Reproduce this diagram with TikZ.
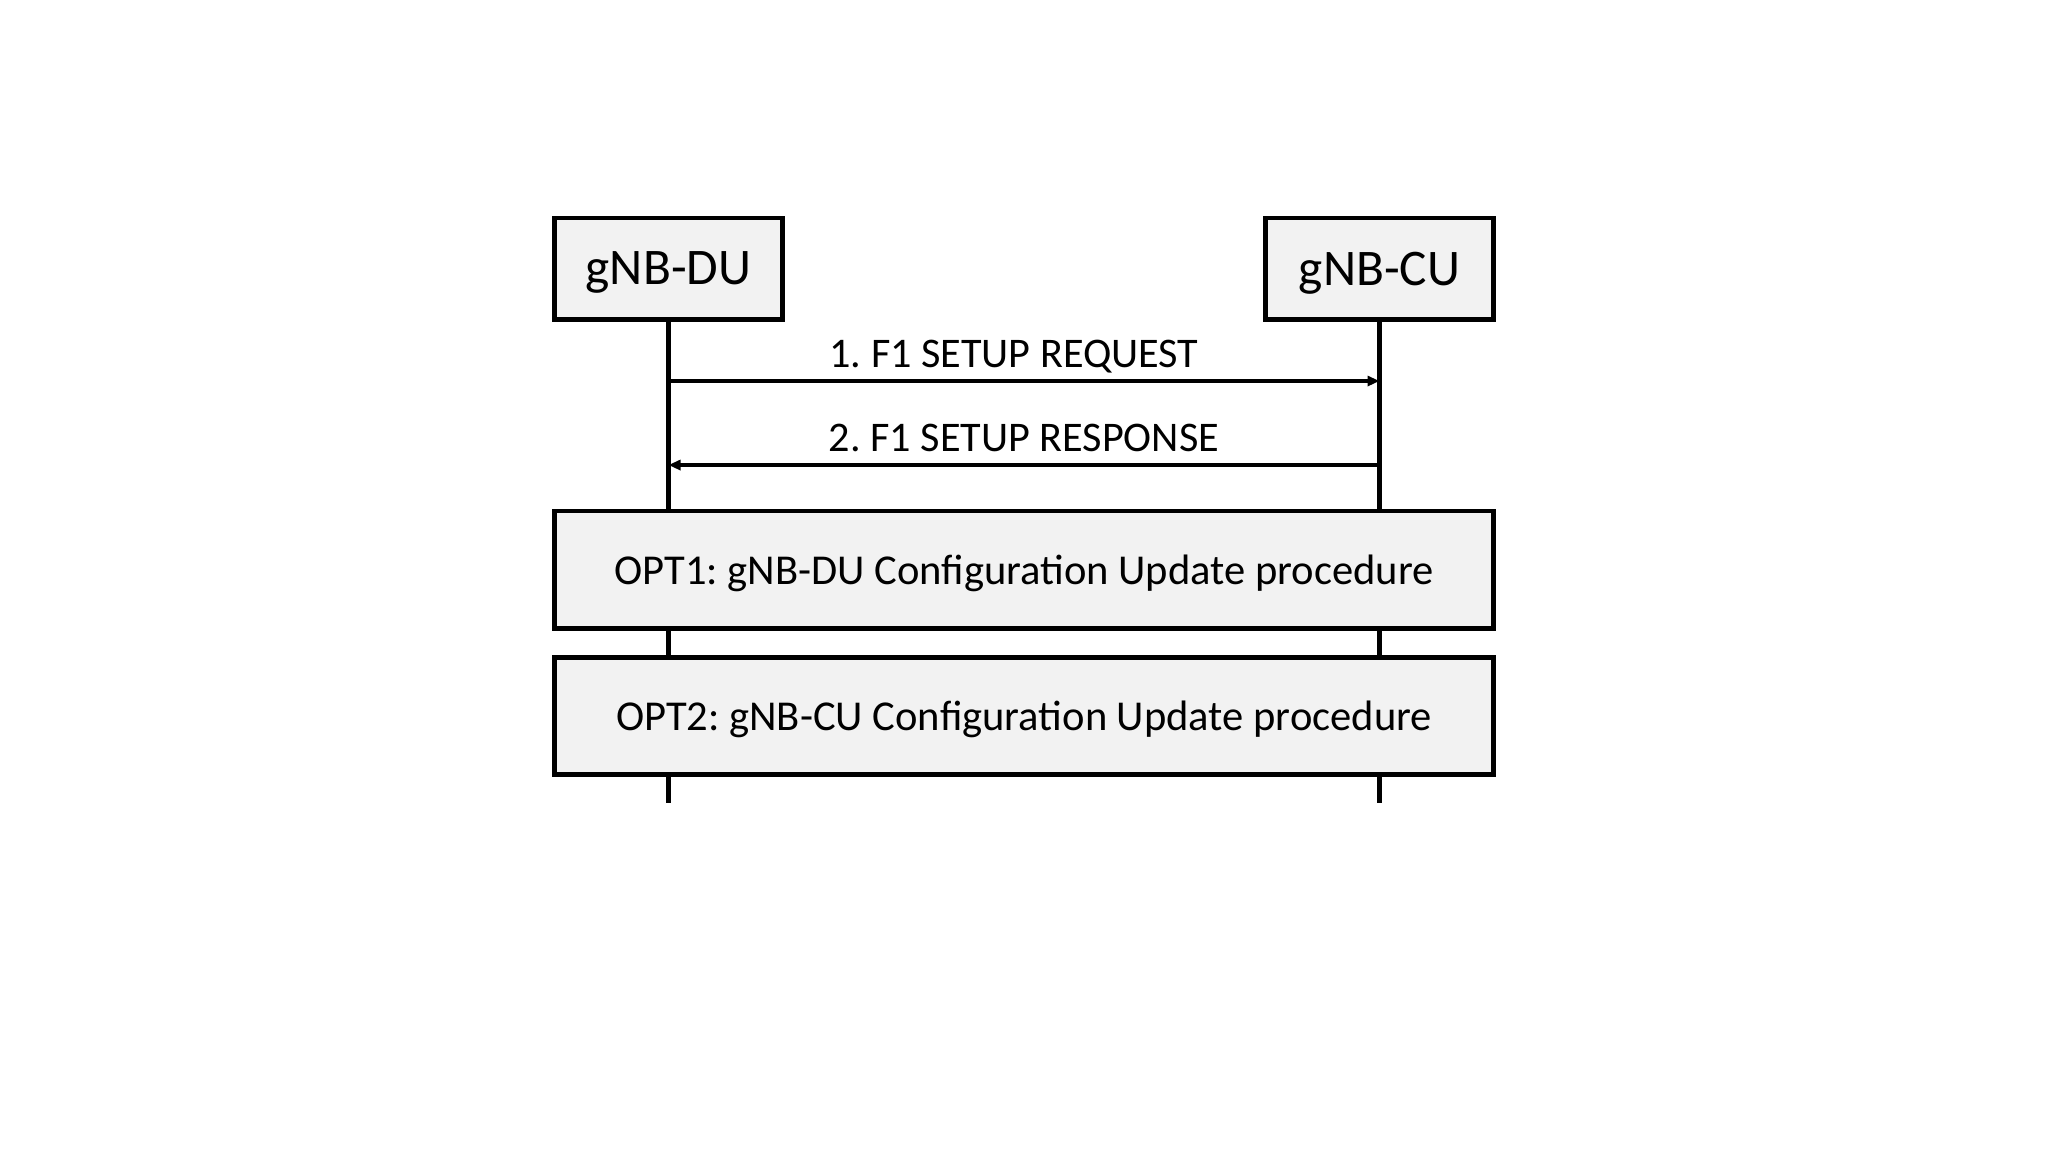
\documentclass[tikz,border=0pt]{standalone}
\usepackage{fontspec}
\setmainfont{Carlito}
\frenchspacing
\usetikzlibrary{arrows.meta,positioning}
\tikzset{
  entity box/.style={draw,line width=1.4pt,fill=black!5,minimum width=2.27cm,minimum height=1.01cm,inner sep=0pt,text depth=0pt,font=\fontsize{14.6}{16}\selectfont},
  proc box/.style={draw,line width=1.4pt,fill=black!5,minimum width=9.38cm,minimum height=1.17cm,inner sep=0pt,text depth=0pt,font=\fontsize{12.1}{14}\selectfont},
  life line/.style={line width=1.2pt},
  msg edge/.style={-{Triangle[length=1.2mm,width=1mm]},line width=1.2pt},
  msg label/.style={font=\fontsize{12}{14}\selectfont,inner sep=0pt,text depth=0pt},
}

\begin{document}
\begin{tikzpicture}[x=0.01cm,y=-0.01cm]
  \useasboundingbox (0,0) rectangle (2048,1153);
  \node[entity box] (du) at (668.5,268.5) {gNB-DU};
  \node[entity box] (cu) at (1379.5,268.5) {gNB-CU};
  \coordinate (du end) at (668.5,803);
  \coordinate (cu end) at (1379.5,803);
  \coordinate (du1) at (668.5,381);
  \coordinate (cu1) at (1379.5,381);
  \coordinate (du2) at (668.5,465);
  \coordinate (cu2) at (1379.5,465);
  \draw[life line] (du)--(du end);
  \draw[life line] (cu)--(cu end);
  \draw[msg edge] (du1)--(cu1) node[msg label,midway,above=3.3pt,xshift=-0.1cm] (m1) {1. F1 SETUP REQUEST};
  \draw[msg edge] (cu2)--(du2) node[msg label,midway,above=3.3pt] (m2) {2. F1 SETUP RESPONSE};
  \node[proc box] (opt1) at (1024,569.5) {OPT1: gNB-DU Configuration Update procedure};
  \node[proc box] (opt2) at (1024,716) {OPT2: gNB-CU Configuration Update procedure};
\end{tikzpicture}
\end{document}
